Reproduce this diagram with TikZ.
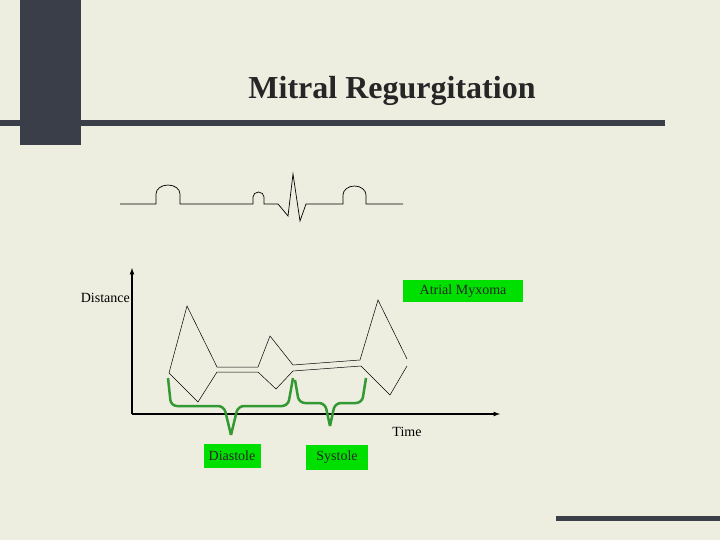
\documentclass[tikz,border=0pt]{standalone}
\usepackage{fontspec}
\setmainfont{Liberation Serif}
\definecolor{bg}{HTML}{EDEDE0}
\definecolor{dark}{HTML}{3A3E48}
\definecolor{lab}{HTML}{00E000}
\definecolor{brace}{HTML}{339933}
\begin{document}
\begin{tikzpicture}[x=1pt,y=-1pt,
  wave/.style={black,line width=0.5pt,line join=miter},
  br/.style={brace,line width=2.5pt,rounded corners=6pt},
  lbox/.style={fill=lab,inner sep=0pt,font=\fontsize{14}{16}\selectfont,text=black!85}]
\fill[bg] (0,0) rectangle (720,540);
\useasboundingbox (0,0) rectangle (720,540);
\fill[dark] (20,0) rectangle (81,145);
\fill[dark] (0,120) rectangle (665,126);
\fill[dark] (556,516) rectangle (720,521);
\node[font=\fontsize{32}{36}\selectfont\bfseries,text=black!85] (title) at (392,91) {Mitral Regurgitation};
% ECG
\draw[wave,line width=0.7pt] (120,204) -- (156,204) -- (156,194) arc[start angle=180,end angle=0,x radius=12,y radius=-9] -- (180,204)
  -- (253,204) -- (253,197) arc[start angle=180,end angle=0,x radius=5.5,y radius=-5] -- (264,204)
  -- (278,204) -- (288,216) -- (293,174) -- (300,221) -- (306,204)
  -- (343,204) -- (343,195) arc[start angle=180,end angle=0,x radius=11.5,y radius=-9] -- (366,204) -- (403,204);
% axes
\coordinate (o) at (132,414);
\coordinate (ytop) at (132,268);
\coordinate (xend) at (500,414);
\draw[line width=1.2pt,-latex] (o) -- (ytop);
\draw[line width=1.2pt,-latex] (o) -- (xend);
% waves
\draw[wave] (169,373) -- (187,306) -- (217,367) -- (258,367) -- (270,336) -- (293,365) -- (360,360) -- (378,300) -- (407,359);
\draw[wave] (169,373) -- (198,402) -- (217,372) -- (258,372) -- (276,389) -- (293,371) -- (361,366) -- (390,395) -- (407,366);
% braces
\draw[br] (168,378) -- (171,406) -- (224,406) -- (231,435);
\draw[br] (231,435) -- (238,406) -- (288,406) -- (293,378);
\draw[br] (295,380) -- (299,403) -- (325,403) -- (330,426);
\draw[br] (330,426) -- (335,403) -- (362,403) -- (366,378);
% labels
\node[lbox,minimum width=120pt,minimum height=22pt] (myx) at (463,291) {Atrial Myxoma};
\node[font=\fontsize{14}{16}\selectfont,anchor=east,inner sep=1pt] (dist) at (131,298) {Distance};
\node[font=\fontsize{14}{16}\selectfont] (time) at (407,432) {Time};
\node[lbox,minimum width=57pt,minimum height=24pt] (dia) at (232,456) {Diastole};
\node[lbox,minimum width=62pt,minimum height=25pt] (sys) at (337,457) {Systole};
\end{tikzpicture}
\end{document}
